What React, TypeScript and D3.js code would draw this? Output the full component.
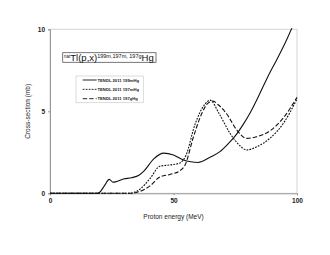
import { useEffect, useRef } from 'react';
import * as d3 from 'd3';

// TENDL 2011 curves, energy (MeV) / cross-section (mb)
const energy199m = [0, 19, 20, 22, 24, 25.5, 27, 29.7, 33, 36, 38, 42, 46, 50, 54, 57, 60, 64.8, 68.8, 72, 75, 78.3, 81, 85, 88, 91.8, 95, 98, 100];
const sigma199m = [0, 0, 0.05, 0.45, 0.85, 0.68, 0.72, 0.87, 0.95, 1.1, 1.35, 2.1, 2.45, 2.33, 2.03, 1.92, 1.88, 2.2, 2.54, 3.0, 3.5, 4.22, 4.9, 6.1, 7.05, 8.15, 9.1, 10.1, 10.8];

const energy197m = [0, 32, 34, 36.4, 40.5, 44.5, 48.6, 52.6, 55, 58.7, 62.8, 64.8, 68.5, 72.9, 76.9, 79.6, 83.7, 89, 94.5, 100];
const sigma197m = [0, 0, 0.05, 0.25, 0.9, 1.65, 1.73, 1.85, 2.3, 4.2, 5.45, 5.68, 4.85, 3.65, 2.9, 2.64, 2.84, 3.35, 4.27, 5.75];

const energy197g = [0, 33, 35, 40.5, 44.5, 48.6, 52.6, 54.7, 58, 61.4, 64, 66, 68.1, 71.5, 75.6, 79.6, 83.7, 89, 94.5, 100];
const sigma197g = [0, 0, 0.05, 0.45, 1.0, 1.15, 1.38, 1.73, 3.4, 4.85, 5.5, 5.62, 5.4, 4.85, 3.86, 3.35, 3.45, 3.8, 4.6, 5.85];

const xTicks = [0, 50, 100];
const yTicks = [0, 5, 10];
const legendLabels = ['TENDL 2011 199mHg', 'TENDL 2011 197mHg', 'TENDL 2011 197gHg'];

export default function App() {
    const ref = useRef<SVGSVGElement>(null);

    useEffect(() => {
        const svg = d3.select(ref.current);
        svg.selectAll('*').remove();

        const left = 50, right = 297, top = 29.3, bottom = 193.3;
        const font = 'Liberation Sans, Arial, sans-serif';

        const x = d3.scaleLinear().domain([0, 100]).range([left, right]);
        const y = d3.scaleLinear().domain([0, 10]).range([bottom, top]);

        svg.append('defs').append('clipPath').attr('id', 'plot')
            .append('rect').attr('x', left).attr('y', top - 1).attr('width', right - left + 1).attr('height', bottom - top + 2);

        // plot frame
        svg.append('rect')
            .attr('x', left).attr('y', top)
            .attr('width', right - left).attr('height', bottom - top)
            .attr('fill', 'none').attr('stroke', '#d4d4d4').attr('stroke-width', 1);

        const xAxis = svg.append('g')
            .attr('transform', `translate(0,${bottom})`)
            .call(d3.axisBottom(x).tickValues(xTicks).tickSize(2).tickPadding(3));
        const yAxis = svg.append('g')
            .attr('transform', `translate(${left},0)`)
            .call(d3.axisLeft(y).tickValues(yTicks).tickSize(2).tickPadding(3));
        [xAxis, yAxis].forEach(g => {
            g.select('.domain').attr('stroke', '#999');
            g.selectAll('.tick line').attr('stroke', '#999');
            g.selectAll('.tick text')
                .attr('font-family', font).attr('font-size', 6.5)
                .attr('font-weight', 'bold').attr('fill', '#222');
        });

        const series = [
            { e: energy199m, s: sigma199m, dash: null, w: 1.1 },
            { e: energy197m, s: sigma197m, dash: '1.8,1.2', w: 1.1 },
            { e: energy197g, s: sigma197g, dash: '4.5,2', w: 1.1 },
        ];

        const line = d3.line<[number, number]>()
            .x(d => x(d[0]))
            .y(d => y(d[1]))
            .curve(d3.curveMonotoneX);

        series.forEach(sr => {
            svg.append('path')
                .datum(sr.e.map((v, i) => [v, sr.s[i]] as [number, number]))
                .attr('clip-path', 'url(#plot)')
                .attr('fill', 'none')
                .attr('stroke', '#111')
                .attr('stroke-width', sr.w)
                .attr('stroke-dasharray', sr.dash)
                .attr('d', line);
        });

        // axis titles
        svg.append('text')
            .attr('x', (left + right) / 2).attr('y', 218.5)
            .attr('text-anchor', 'middle')
            .attr('font-family', font).attr('font-size', 6.5).attr('fill', '#222')
            .text('Proton energy (MeV)');
        svg.append('text')
            .attr('transform', `translate(30,${(top + bottom) / 2}) rotate(-90)`)
            .attr('text-anchor', 'middle')
            .attr('font-family', font).attr('font-size', 6.5).attr('fill', '#222')
            .text('Cross-section (mb)');

        // title box
        svg.append('rect')
            .attr('x', 62.7).attr('y', 52.7).attr('width', 93.3).attr('height', 9.6)
            .attr('fill', 'white').attr('stroke', '#555').attr('stroke-width', 0.8);
        const title = svg.append('text')
            .attr('x', 64).attr('y', 61)
            .attr('font-family', font).attr('font-size', 9.5).attr('fill', '#111');
        title.append('tspan').attr('font-size', 4.5).attr('dy', -3).text('nat');
        title.append('tspan').attr('dy', 3).text('Tl(p,x)');
        title.append('tspan').attr('font-size', 5.5).attr('dy', -3.5).text('199m,197m, 197g');
        title.append('tspan').attr('dy', 3.5).text('Hg');

        // legend
        svg.append('rect')
            .attr('x', 76).attr('y', 76).attr('width', 67.3).attr('height', 26.7)
            .attr('fill', 'white').attr('stroke', '#ccc').attr('stroke-width', 0.7);
        legendLabels.forEach((lab, i) => {
            const ly = 80 + i * 9.35;
            svg.append('line')
                .attr('x1', 82.7).attr('x2', 96.7).attr('y1', ly).attr('y2', ly)
                .attr('stroke', '#111').attr('stroke-width', 0.9)
                .attr('stroke-dasharray', series[i].dash);
            svg.append('text')
                .attr('x', 97.5).attr('y', ly + 1.5)
                .attr('font-family', font).attr('font-size', 4.2)
                .attr('font-weight', 'bold').attr('fill', '#222')
                .text(lab);
        });
    }, []);

    return (
        <svg ref={ref} width={330} height={255}
            style={{ position: 'absolute', left: 0, top: 0, background: 'white' }} />
    );
}
